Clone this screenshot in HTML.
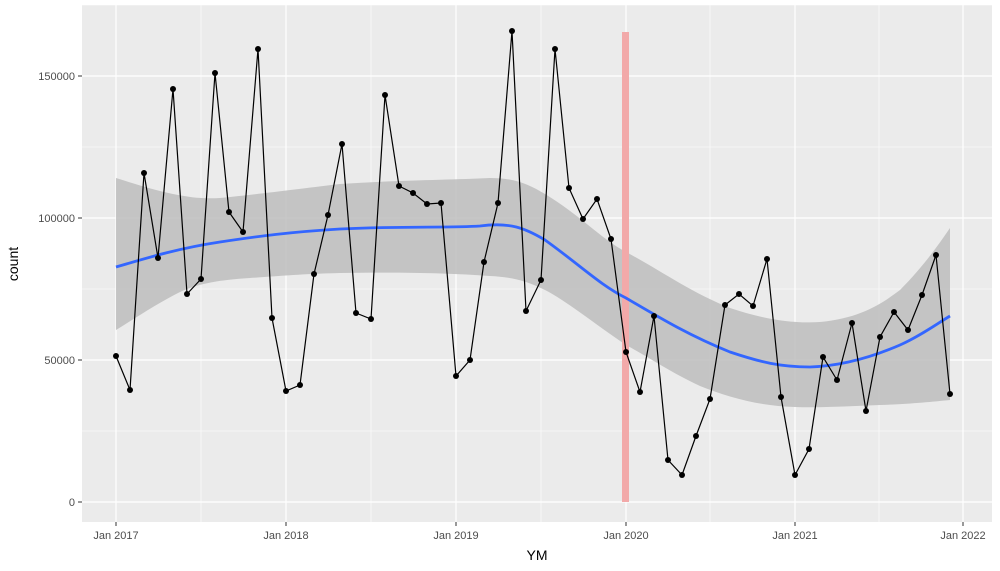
<!DOCTYPE html>
<html><head><meta charset="utf-8"><style>body{margin:0;background:#fff}svg{display:block;font-family:"Liberation Sans",sans-serif}</style></head>
<body>
<svg width="1000" height="571" xmlns="http://www.w3.org/2000/svg">
<rect x="82" y="5" width="910" height="517" fill="#ebebeb"/>
<g stroke="#fff" stroke-width="0.6">
<line x1="82" x2="992" y1="147" y2="147"/><line x1="82" x2="992" y1="289" y2="289"/><line x1="82" x2="992" y1="431" y2="431"/><line x1="82" x2="992" y1="5" y2="5"/>
<line y1="5" y2="522" x1="201" x2="201"/><line y1="5" y2="522" x1="371" x2="371"/><line y1="5" y2="522" x1="541" x2="541"/><line y1="5" y2="522" x1="710" x2="710"/><line y1="5" y2="522" x1="879" x2="879"/>
</g>
<g stroke="#fff" stroke-width="1.2">
<line x1="82" x2="992" y1="76" y2="76"/><line x1="82" x2="992" y1="218" y2="218"/><line x1="82" x2="992" y1="360" y2="360"/><line x1="82" x2="992" y1="502" y2="502"/>
<line y1="5" y2="522" x1="116" x2="116"/><line y1="5" y2="522" x1="286" x2="286"/><line y1="5" y2="522" x1="456" x2="456"/><line y1="5" y2="522" x1="626" x2="626"/><line y1="5" y2="522" x1="795" x2="795"/><line y1="5" y2="522" x1="963" x2="963"/>
</g>
<path d="M116,178 C160,192 190,200 220,198 C260,194 290,190 340,184 C400,180 450,180 490,178 C515,178 528,184 545,194 C580,215 600,238 626,252 C660,270 690,292 730,308 C760,318 790,324 820,322 C860,318 880,305 900,290 C920,270 935,250 950,228 L950,400 C930,402 910,404 880,405 C850,406 820,408 795,407 C760,406 730,398 700,386 C670,372 650,358 626,345 C595,324 565,300 545,290 C525,280 510,277 490,276 C450,273 400,272 340,273 C300,274 280,276 250,278 C220,280 200,283 180,292 C160,302 140,315 116,330 Z" fill="#bdbdbd" opacity="0.85"/>
<rect x="622" y="32" width="7" height="470" fill="#f2a9a9"/>
<path d="M116,267 C150,257 180,248 220,242 C260,236 290,232 340,229 C400,226 450,228 480,226 C510,222 525,228 545,240 C580,265 600,285 626,298 C660,318 690,336 730,352 C760,362 780,367 810,367 C840,366 870,358 900,345 C920,336 935,325 950,316" fill="none" stroke="#3366ff" stroke-width="2.8"/>
<polyline fill="none" stroke="#000" stroke-width="1.2" points="116,356 130,390 144,173 158,258 173,89 187,294 201,279 215,73 229,212 243,232 258,49 272,318 286,391 300,385 314,274 328,215 342,144 356,313 371,319 385,95 399,186 413,193 427,204 441,203 456,376 470,360 484,262 498,203 512,31 526,311 541,280 555,49 569,188 583,219 597,199 611,239 626,352 640,392 654,316 668,460 682,475 696,436 710,399 725,305 739,294 753,306 767,259 781,397 795,475 809,449 823,357 837,380 852,323 866,411 880,337 894,312 908,330 922,295 936,255 950,394"/>
<g fill="#000">
<circle cx="116" cy="356" r="3"/><circle cx="130" cy="390" r="3"/><circle cx="144" cy="173" r="3"/><circle cx="158" cy="258" r="3"/><circle cx="173" cy="89" r="3"/><circle cx="187" cy="294" r="3"/><circle cx="201" cy="279" r="3"/><circle cx="215" cy="73" r="3"/><circle cx="229" cy="212" r="3"/><circle cx="243" cy="232" r="3"/><circle cx="258" cy="49" r="3"/><circle cx="272" cy="318" r="3"/><circle cx="286" cy="391" r="3"/><circle cx="300" cy="385" r="3"/><circle cx="314" cy="274" r="3"/><circle cx="328" cy="215" r="3"/><circle cx="342" cy="144" r="3"/><circle cx="356" cy="313" r="3"/><circle cx="371" cy="319" r="3"/><circle cx="385" cy="95" r="3"/><circle cx="399" cy="186" r="3"/><circle cx="413" cy="193" r="3"/><circle cx="427" cy="204" r="3"/><circle cx="441" cy="203" r="3"/><circle cx="456" cy="376" r="3"/><circle cx="470" cy="360" r="3"/><circle cx="484" cy="262" r="3"/><circle cx="498" cy="203" r="3"/><circle cx="512" cy="31" r="3"/><circle cx="526" cy="311" r="3"/><circle cx="541" cy="280" r="3"/><circle cx="555" cy="49" r="3"/><circle cx="569" cy="188" r="3"/><circle cx="583" cy="219" r="3"/><circle cx="597" cy="199" r="3"/><circle cx="611" cy="239" r="3"/><circle cx="626" cy="352" r="3"/><circle cx="640" cy="392" r="3"/><circle cx="654" cy="316" r="3"/><circle cx="668" cy="460" r="3"/><circle cx="682" cy="475" r="3"/><circle cx="696" cy="436" r="3"/><circle cx="710" cy="399" r="3"/><circle cx="725" cy="305" r="3"/><circle cx="739" cy="294" r="3"/><circle cx="753" cy="306" r="3"/><circle cx="767" cy="259" r="3"/><circle cx="781" cy="397" r="3"/><circle cx="795" cy="475" r="3"/><circle cx="809" cy="449" r="3"/><circle cx="823" cy="357" r="3"/><circle cx="837" cy="380" r="3"/><circle cx="852" cy="323" r="3"/><circle cx="866" cy="411" r="3"/><circle cx="880" cy="337" r="3"/><circle cx="894" cy="312" r="3"/><circle cx="908" cy="330" r="3"/><circle cx="922" cy="295" r="3"/><circle cx="936" cy="255" r="3"/><circle cx="950" cy="394" r="3"/>
</g>
<g stroke="#333" stroke-width="1">
<line x1="78" x2="82" y1="76" y2="76"/><line x1="78" x2="82" y1="218" y2="218"/><line x1="78" x2="82" y1="360" y2="360"/><line x1="78" x2="82" y1="502" y2="502"/>
<line y1="522" y2="526" x1="116" x2="116"/><line y1="522" y2="526" x1="286" x2="286"/><line y1="522" y2="526" x1="456" x2="456"/><line y1="522" y2="526" x1="626" x2="626"/><line y1="522" y2="526" x1="795" x2="795"/><line y1="522" y2="526" x1="963" x2="963"/>
</g>
<g fill="#4d4d4d" font-size="11" text-anchor="end">
<text x="75" y="80">150000</text><text x="75" y="222">100000</text><text x="75" y="364">50000</text><text x="75" y="506">0</text>
</g>
<g fill="#4d4d4d" font-size="11" text-anchor="middle">
<text x="116" y="539">Jan 2017</text><text x="286" y="539">Jan 2018</text><text x="456" y="539">Jan 2019</text><text x="626" y="539">Jan 2020</text><text x="795" y="539">Jan 2021</text><text x="963" y="539">Jan 2022</text>
</g>
<text x="537" y="560" font-size="14" text-anchor="middle" fill="#000">YM</text>
<text transform="translate(18,264) rotate(-90)" font-size="14" text-anchor="middle" fill="#000">count</text>
</svg>
</body></html>
